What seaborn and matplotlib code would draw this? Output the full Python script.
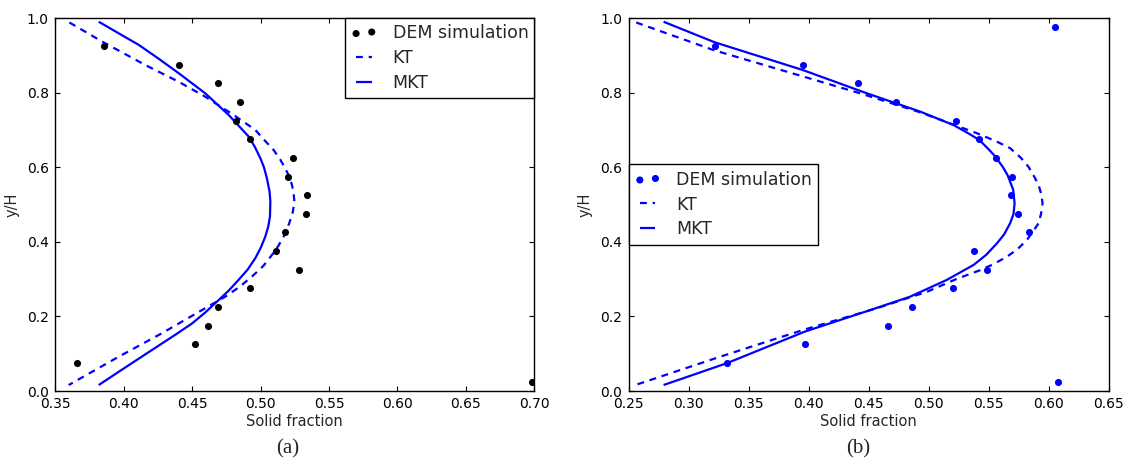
import matplotlib
matplotlib.use("Agg")
import matplotlib.pyplot as plt
import seaborn as sns
import pandas as pd

# ---------------- data ----------------
# Panel (a)
dem_y_a = [0.925, 0.875, 0.825, 0.775, 0.725, 0.675, 0.625, 0.575, 0.525, 0.475,
           0.425, 0.375, 0.325, 0.275, 0.225, 0.175, 0.125, 0.075, 0.025]
dem_x_a = [0.386, 0.4405, 0.469, 0.485, 0.482, 0.492, 0.524, 0.520, 0.534, 0.533,
           0.518, 0.511, 0.528, 0.492, 0.469, 0.462, 0.452, 0.366, 0.698]

kt_y_a = [0.988, 0.937, 0.874, 0.829, 0.789, 0.740, 0.700, 0.670, 0.646, 0.620, 0.597,
          0.575, 0.552, 0.530, 0.508, 0.480, 0.450, 0.414, 0.390, 0.365, 0.335,
          0.307, 0.280, 0.253, 0.217, 0.155, 0.092, 0.016]
kt_x_a = [0.3605, 0.3843, 0.4159, 0.4403, 0.4597, 0.4804, 0.4962, 0.5035, 0.5096, 0.5145, 0.518,
          0.5210, 0.523, 0.5242, 0.5247, 0.5236, 0.521, 0.5169, 0.5132, 0.5084, 0.5020,
          0.4938, 0.4850, 0.4743, 0.4573, 0.4281, 0.3965, 0.360]

mkt_y_a = [0.990, 0.960, 0.928, 0.890, 0.852, 0.798, 0.740, 0.682, 0.655, 0.624, 0.600,
           0.570, 0.535, 0.508, 0.467, 0.440, 0.414, 0.385, 0.356, 0.325, 0.298,
           0.270, 0.244, 0.210, 0.181, 0.150, 0.110, 0.060, 0.016]
mkt_x_a = [0.3819, 0.3960, 0.4111, 0.4260, 0.4403, 0.4597, 0.4768, 0.4914, 0.4958, 0.4999, 0.5025,
           0.5047, 0.5066, 0.5072, 0.5069, 0.5056, 0.5035, 0.5003, 0.4962, 0.4905, 0.4840,
           0.4770, 0.4695, 0.4595, 0.4500, 0.4375, 0.4208, 0.4000, 0.3819]

# Panel (b)
dem_y_b = [0.975, 0.925, 0.875, 0.825, 0.775, 0.725, 0.675, 0.625, 0.575, 0.525,
           0.475, 0.425, 0.375, 0.325, 0.275, 0.225, 0.175, 0.125, 0.075, 0.025]
dem_x_b = [0.605, 0.322, 0.395, 0.441, 0.4725, 0.5225, 0.542, 0.556, 0.5695, 0.569,
           0.5745, 0.584, 0.538, 0.549, 0.520, 0.486, 0.466, 0.397, 0.332, 0.608]

kt_y_b = [0.988, 0.914, 0.856, 0.798, 0.747, 0.691, 0.670, 0.651, 0.625, 0.601, 0.575,
          0.552, 0.527, 0.503, 0.475, 0.450, 0.430, 0.405, 0.380, 0.360, 0.340,
          0.324, 0.300, 0.266, 0.222, 0.164, 0.092, 0.016]
kt_x_b = [0.2564, 0.3208, 0.382, 0.4431, 0.4931, 0.5403, 0.5560, 0.568, 0.5770, 0.5833, 0.5880,
          0.5917, 0.5940, 0.595, 0.5937, 0.5917, 0.5875, 0.582, 0.5740, 0.5653, 0.5540,
          0.5431, 0.5230, 0.4987, 0.457, 0.3958, 0.3264, 0.2556]

mkt_y_b = [0.990, 0.935, 0.861, 0.798, 0.749, 0.713, 0.693, 0.673, 0.650, 0.628, 0.600,
           0.579, 0.540, 0.503, 0.475, 0.450, 0.420, 0.396, 0.365, 0.338, 0.298,
           0.253, 0.217, 0.159, 0.075, 0.016]
mkt_x_b = [0.2792, 0.3217, 0.3948, 0.4487, 0.4931, 0.5208, 0.5320, 0.5423, 0.5495, 0.5558, 0.5620,
           0.5658, 0.5705, 0.5717, 0.5708, 0.568, 0.5630, 0.557, 0.5480, 0.5375, 0.5153,
           0.4847, 0.4514, 0.3967, 0.3323, 0.2792]

xticks_a = [0.35, 0.40, 0.45, 0.50, 0.55, 0.60, 0.65, 0.70]
xticks_b = [0.25, 0.30, 0.35, 0.40, 0.45, 0.50, 0.55, 0.60, 0.65]
yticks = [0.0, 0.2, 0.4, 0.6, 0.8, 1.0]
legend_labels = ["DEM simulation", "KT", "MKT"]
panel_labels = ["(a)", "(b)"]
x_label = "Solid fraction"
y_label = "y/H"

# ---------------- style ----------------
sns.set_theme(style="white")
plt.rcParams.update({
    "font.family": ["DejaVu Sans"],
    "axes.edgecolor": "black",
    "axes.linewidth": 1.0,
    "xtick.direction": "in",
    "ytick.direction": "in",
    "xtick.top": True,
    "ytick.right": True,
    "xtick.bottom": True,
    "ytick.left": True,
    "xtick.major.size": 3.5,
    "ytick.major.size": 3.5,
    "xtick.major.width": 0.8,
    "ytick.major.width": 0.8,
    "xtick.major.pad": 4.0,
    "ytick.major.pad": 4.5,
    "xtick.color": "black",
    "ytick.color": "black",
    "xtick.labelsize": 10,
    "ytick.labelsize": 10,
})

fig = plt.figure(figsize=(11.25, 4.63), dpi=100)
fig.patch.set_facecolor("white")
ax_a = fig.add_axes([0.0489, 0.1555, 0.4262, 0.8056])
ax_b = fig.add_axes([0.5587, 0.1555, 0.4267, 0.8056])

BLUE = (0, 0, 1)


def draw(ax, dx, dy, kx, ky, mx, my, dot_color, xlim, xticks, legend_loc, panel, px):
    sns.scatterplot(x=dx, y=dy, ax=ax, color=dot_color, s=26, linewidth=0,
                    zorder=3, legend=False)
    kt_df = pd.DataFrame({"x": kx, "y": ky})
    mkt_df = pd.DataFrame({"x": mx, "y": my})
    sns.lineplot(data=kt_df, x="x", y="y", sort=False, estimator=None, ax=ax,
                 color=BLUE, lw=1.6, legend=False)
    sns.lineplot(data=mkt_df, x="x", y="y", sort=False, estimator=None, ax=ax,
                 color=BLUE, lw=1.6, legend=False)
    pts = ax.collections[0]
    kt_line, mkt_line = ax.lines[0], ax.lines[1]
    kt_line.set_dashes([3.1, 2.6])
    for ln in (kt_line, mkt_line):
        ln.set_solid_capstyle("butt")
        ln.set_dash_capstyle("butt")

    ax.set_xlim(*xlim)
    ax.set_ylim(0, 1.0)
    ax.set_xticks(xticks)
    ax.set_yticks(yticks)
    ax.set_xticklabels([f"{v:.2f}" for v in xticks])
    ax.set_yticklabels([f"{v:.1f}" for v in yticks])
    ax.set_xlabel(x_label, fontsize=10.5)
    ax.set_ylabel(y_label, fontsize=10.5)
    ax.xaxis.set_label_coords(0.5, -0.062)
    ax.yaxis.set_label_coords(-0.074, 0.5)
    for s in ax.spines.values():
        s.set_visible(True)
        s.set_color("black")

    leg = ax.legend([pts, kt_line, mkt_line], legend_labels, loc=legend_loc,
                    borderaxespad=0.0, scatterpoints=2, numpoints=2,
                    fontsize=12.5, fancybox=False, frameon=True,
                    handlelength=1.5, handletextpad=0.9, borderpad=0.35,
                    labelspacing=0.4)
    leg.get_frame().set_edgecolor("black")
    leg.get_frame().set_linewidth(1.0)
    leg.get_frame().set_alpha(1.0)
    fig.text(px, 0.030, panel, ha="center", va="center", fontsize=15,
             family=["Liberation Serif", "DejaVu Serif"])


draw(ax_a, dem_x_a, dem_y_a, kt_x_a, kt_y_a, mkt_x_a, mkt_y_a, "black",
     (0.35, 0.70), xticks_a, "upper right", panel_labels[0], 0.256)
draw(ax_b, dem_x_b, dem_y_b, kt_x_b, kt_y_b, mkt_x_b, mkt_y_b, BLUE,
     (0.25, 0.65), xticks_b, "center left", panel_labels[1], 0.763)

fig.savefig("out.png", dpi=100, facecolor="white")
